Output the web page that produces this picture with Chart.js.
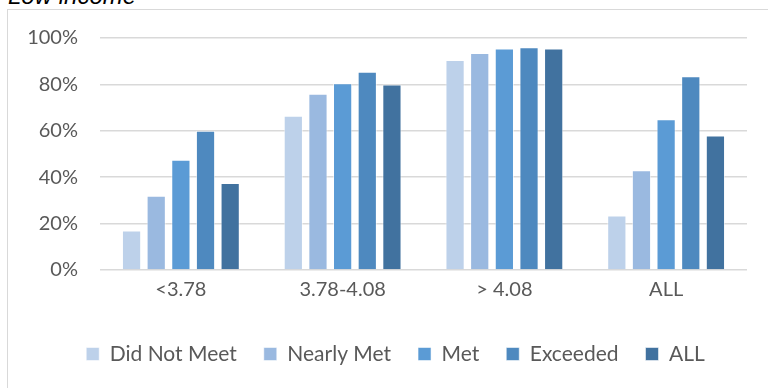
<!DOCTYPE html>
<html>
<head>
<meta charset="utf-8">
<script src="https://cdn.jsdelivr.net/npm/chart.js@4/dist/chart.umd.min.js"></script>
<style>
  body { margin: 0; background: #fff; overflow: hidden; }
  #frame { position: absolute; left: 7px; top: 9px; width: 820px; height: 420px; border: 1px solid #d9d9d9; }
  #title { position: absolute; left: 8px; top: -16px; font: italic 24px "Liberation Sans", Arial, sans-serif; line-height: 24px; color: #000; white-space: nowrap; }
  #wrap { position: absolute; left: 0; top: 0; width: 768px; height: 388px; }
</style>
</head>
<body>
<div id="frame"></div>
<div id="title">Low income</div>
<div id="wrap"><canvas id="barchart"></canvas></div>
<script>
var categories = ['<3.78', '3.78-4.08', '> 4.08', 'ALL'];
var didNotMeet = [17, 66.5, 90.5, 23.5];
var nearlyMet = [32, 76, 93.5, 43];
var met = [47.5, 80.5, 95.5, 65];
var exceeded = [60, 85.5, 96, 83.5];
var allStudents = [37.5, 80, 95.5, 58];
var yTicks = [0, 20, 40, 60, 80, 100];

var seriesNames = ['Did Not Meet', 'Nearly Met', 'Met', 'Exceeded', 'ALL'];
var seriesData = [didNotMeet, nearlyMet, met, exceeded, allStudents];
var seriesColors = ['#bdd1ea', '#9ab9e0', '#5b9bd5', '#4e89bf', '#41729f'];

var datasets = seriesData.map(function (d, i) {
  return {
    label: seriesNames[i],
    data: d,
    backgroundColor: seriesColors[i],
    borderColor: 'rgba(255,255,255,0.55)',
    borderWidth: 1,
    categoryPercentage: 0.762,
    barPercentage: 0.78
  };
});

// legend in the original sits a bit right of the plot centre
var shiftLegend = {
  id: 'shiftLegend',
  afterLayout: function (chart) {
    chart.legend.left += 22;
    chart.legend.right += 22;
  }
};

var ctx = document.getElementById('barchart').getContext('2d');
var myChart = new Chart(ctx, {
  type: 'bar',
  data: {
    labels: categories,
    datasets: datasets
  },
  plugins: [shiftLegend],
  options: {
    responsive: true,
    maintainAspectRatio: false,
    animation: false,
    layout: {
      padding: { top: 38, right: 21, bottom: 13.5, left: 0 }
    },
    plugins: {
      title: { display: false },
      tooltip: { enabled: false },
      legend: {
        position: 'bottom',
        labels: {
          font: { family: 'Lato', size: 21 },
          color: '#595959',
          boxWidth: 13,
          boxHeight: 13,
          padding: 27
        }
      }
    },
    scales: {
      x: {
        grid: { display: false, drawTicks: false },
        border: { display: false },
        ticks: {
          font: { family: 'Lato', size: 20 },
          color: '#595959',
          padding: 8
        },
        afterFit: function (scale) { scale.height = 46.5; }
      },
      y: {
        min: 0,
        max: 100,
        afterBuildTicks: function (scale) {
          scale.ticks = yTicks.map(function (v) { return { value: v }; });
        },
        grid: { color: '#d9d9d9', lineWidth: 1.5, drawTicks: false },
        border: { display: false },
        ticks: {
          font: { family: 'Lato', size: 20 },
          color: '#595959',
          padding: 22,
          callback: function (v) { return v + '%'; }
        },
        afterFit: function (scale) { scale.width = 100; }
      }
    }
  }
});
</script>
</body>
</html>
